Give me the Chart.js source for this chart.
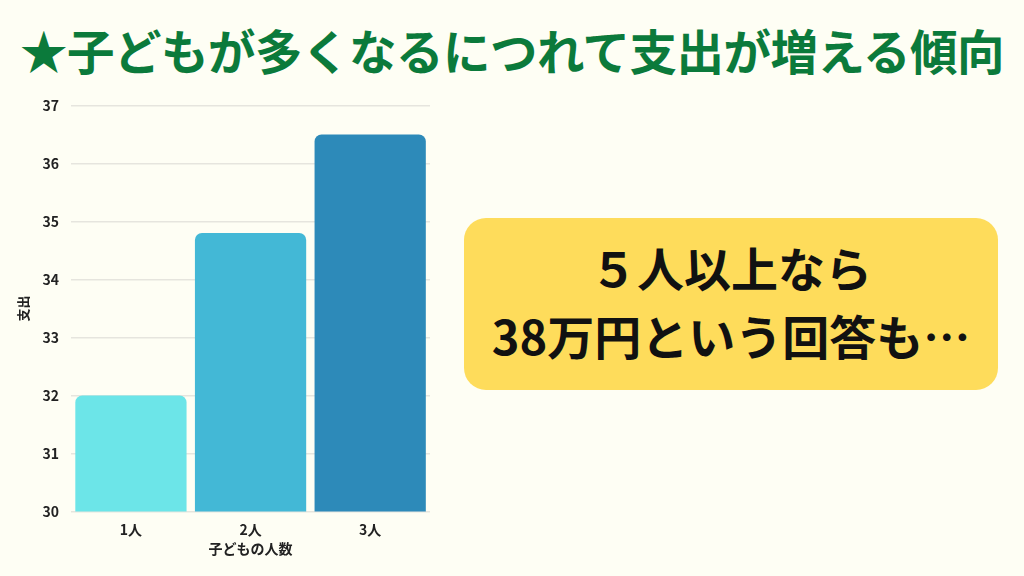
<!DOCTYPE html>
<html lang="ja">
<head>
<meta charset="utf-8">
<script src="https://cdn.jsdelivr.net/npm/chart.js@4"></script>
<style>
  html, body { margin: 0; padding: 0; }
  body {
    width: 1024px; height: 576px; overflow: hidden; position: relative;
    background: #fefef4;
    font-family: "Noto Sans CJK JP", "Noto Sans", sans-serif;
  }
  .title {
    position: absolute; left: 0; top: 18px; width: 1024px;
    text-align: center; font-size: 47.5px; font-weight: 700; color: #0b7a3b;
    line-height: 64px; letter-spacing: -0.5px; white-space: nowrap;
  }
  .chart-box {
    position: absolute; left: 0px; top: 85px; width: 443px; height: 478px;
  }
  .note {
    position: absolute; left: 464px; top: 218px; width: 534px; height: 172px;
    box-sizing: border-box; padding-bottom: 6px;
    background: #fedc5b; border-radius: 22px;
    display: flex; flex-direction: column; justify-content: center; align-items: center;
    font-size: 47px; font-weight: 700; color: #111; line-height: 68px;
  }
</style>
</head>
<body>
<div class="title">★子どもが多くなるにつれて支出が増える傾向</div>
<div class="chart-box"><canvas id="spendChart"></canvas></div>
<div class="note"><div>５人以上なら</div><div>38万円という回答も…</div></div>
<script>
document.addEventListener('DOMContentLoaded', () => {
    const categories = ['1人', '2人', '3人'];
    const spending = [32, 34.8, 36.5];
    const barColors = ['#6ce5e8', '#43b8d6', '#2d8ab9'];
    const yTicks = [30, 31, 32, 33, 34, 35, 36, 37];

    const chartCanvas = document.getElementById('spendChart');
    const tickFont = { family: '"Noto Sans CJK JP", sans-serif', size: 14, weight: 'bold' };

    new Chart(chartCanvas, {
        type: 'bar',
        data: {
            labels: categories,
            datasets: [{
                data: spending,
                backgroundColor: barColors,
                borderRadius: { topLeft: 7, topRight: 7 },
                borderSkipped: 'bottom',
                barPercentage: 0.93,
                categoryPercentage: 1.0
            }]
        },
        options: {
            responsive: true,
            maintainAspectRatio: false,
            animation: false,
            layout: { padding: { top: 12, right: 13, bottom: 0, left: 15 } },
            plugins: {
                legend: { display: false },
                tooltip: { enabled: false }
            },
            scales: {
                x: {
                    grid: { display: false },
                    border: { display: false },
                    ticks: { color: '#222', font: tickFont, padding: 2 },
                    title: {
                        display: true, text: '子どもの人数', color: '#222',
                        font: { family: '"Noto Sans CJK JP", sans-serif', size: 14, weight: 'bold' },
                        padding: { top: 0, bottom: 6 }
                    }
                },
                y: {
                    min: yTicks[0],
                    max: yTicks[yTicks.length - 1],
                    afterBuildTicks: axis => {
                        axis.ticks = yTicks.map(v => ({ value: v }));
                    },
                    grid: { color: '#e6e5de', lineWidth: 1.5, drawTicks: false },
                    border: { display: false },
                    ticks: { color: '#222', font: tickFont, padding: 12 },
                    title: {
                        display: true, text: '支出', color: '#222',
                        font: { family: '"Noto Sans CJK JP", sans-serif', size: 13, weight: 'bold' },
                        padding: { top: 0, bottom: 0 }
                    }
                }
            }
        }
    });
});
</script>
</body>
</html>
